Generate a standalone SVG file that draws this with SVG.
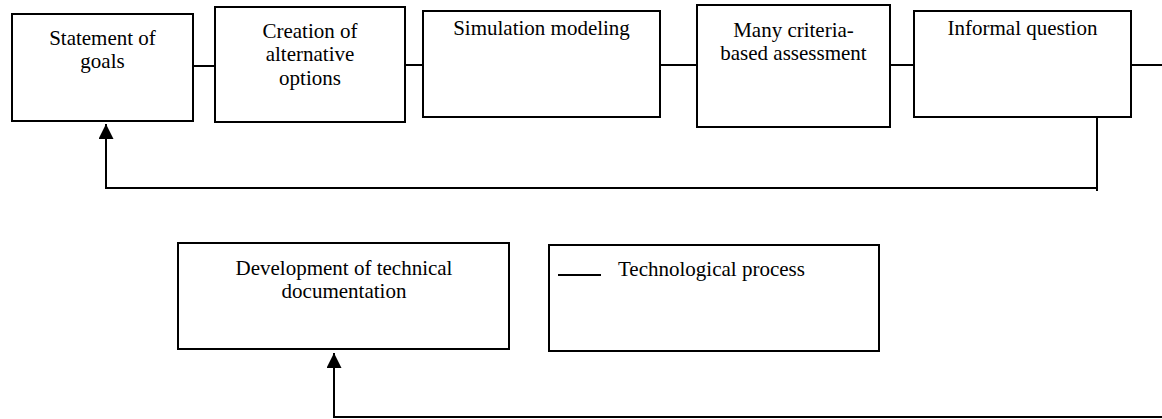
<svg xmlns="http://www.w3.org/2000/svg" width="1162" height="419" viewBox="0 0 1162 419">
<style>
.box{fill:#fff;stroke:#000;stroke-width:2}
text{font-family:'Liberation Serif','Times New Roman','DejaVu Serif',serif;font-size:21px;fill:#000}
.lbl{text-anchor:middle}
.ln{fill:none;stroke:#000;stroke-width:2}
</style>
<defs>
<marker id="up" viewBox="0 0 15 15" refX="7.5" refY="0" markerWidth="15" markerHeight="15" markerUnits="userSpaceOnUse" orient="0">
<path d="M7.5,0 L15,15 L0,15 Z" fill="#000"/>
</marker>
</defs>
<g id="connectors">
<line class="ln" x1="193" y1="66" x2="215" y2="66"/>
<line class="ln" x1="405" y1="65" x2="423" y2="65"/>
<line class="ln" x1="660" y1="65" x2="697" y2="65"/>
<line class="ln" x1="890" y1="65" x2="914" y2="65"/>
<line class="ln" x1="1131" y1="65" x2="1162" y2="65"/>
<polyline class="ln" points="1097,118 1097,191"/>
<polyline class="ln" points="1097,188 106,188 106,124" marker-end="url(#up)"/>
<polyline class="ln" points="1162,417 334,417 334,353" marker-end="url(#up)"/>
</g>
<g id="n1"><rect class="box" x="12" y="14" width="181" height="107"/>
<text class="lbl" x="102.5" y="45" font-family="Liberation Serif, serif">Statement of</text><text class="lbl" x="102.5" y="68" font-family="Liberation Serif, serif">goals</text></g>
<g id="n2"><rect class="box" x="215" y="7" width="190" height="115"/>
<text class="lbl" x="310" y="38" font-family="Liberation Serif, serif">Creation of</text><text class="lbl" x="310" y="61" font-family="Liberation Serif, serif">alternative</text><text class="lbl" x="310" y="85" font-family="Liberation Serif, serif">options</text></g>
<g id="n3"><rect class="box" x="423" y="11" width="237" height="106"/>
<text class="lbl" x="541.5" y="35" font-family="Liberation Serif, serif">Simulation modeling</text></g>
<g id="n4"><rect class="box" x="697" y="5" width="193" height="122"/>
<text class="lbl" x="793.5" y="37" font-family="Liberation Serif, serif">Many criteria-</text><text class="lbl" x="793.5" y="60" font-family="Liberation Serif, serif">based assessment</text></g>
<g id="n5"><rect class="box" x="914" y="11" width="217" height="106"/>
<text class="lbl" x="1022.5" y="35" font-family="Liberation Serif, serif">Informal question</text></g>
<g id="n6"><rect class="box" x="178" y="243" width="331" height="106"/>
<text class="lbl" x="344" y="275" font-family="Liberation Serif, serif">Development of technical</text><text class="lbl" x="344" y="298" font-family="Liberation Serif, serif">documentation</text></g>
<g id="n7"><rect class="box" x="549" y="245" width="330" height="106"/>
<line class="ln" x1="558" y1="275" x2="601" y2="275" stroke-width="1.5"/>
<text x="618" y="276" font-family="Liberation Serif, serif">Technological process</text></g>
</svg>
